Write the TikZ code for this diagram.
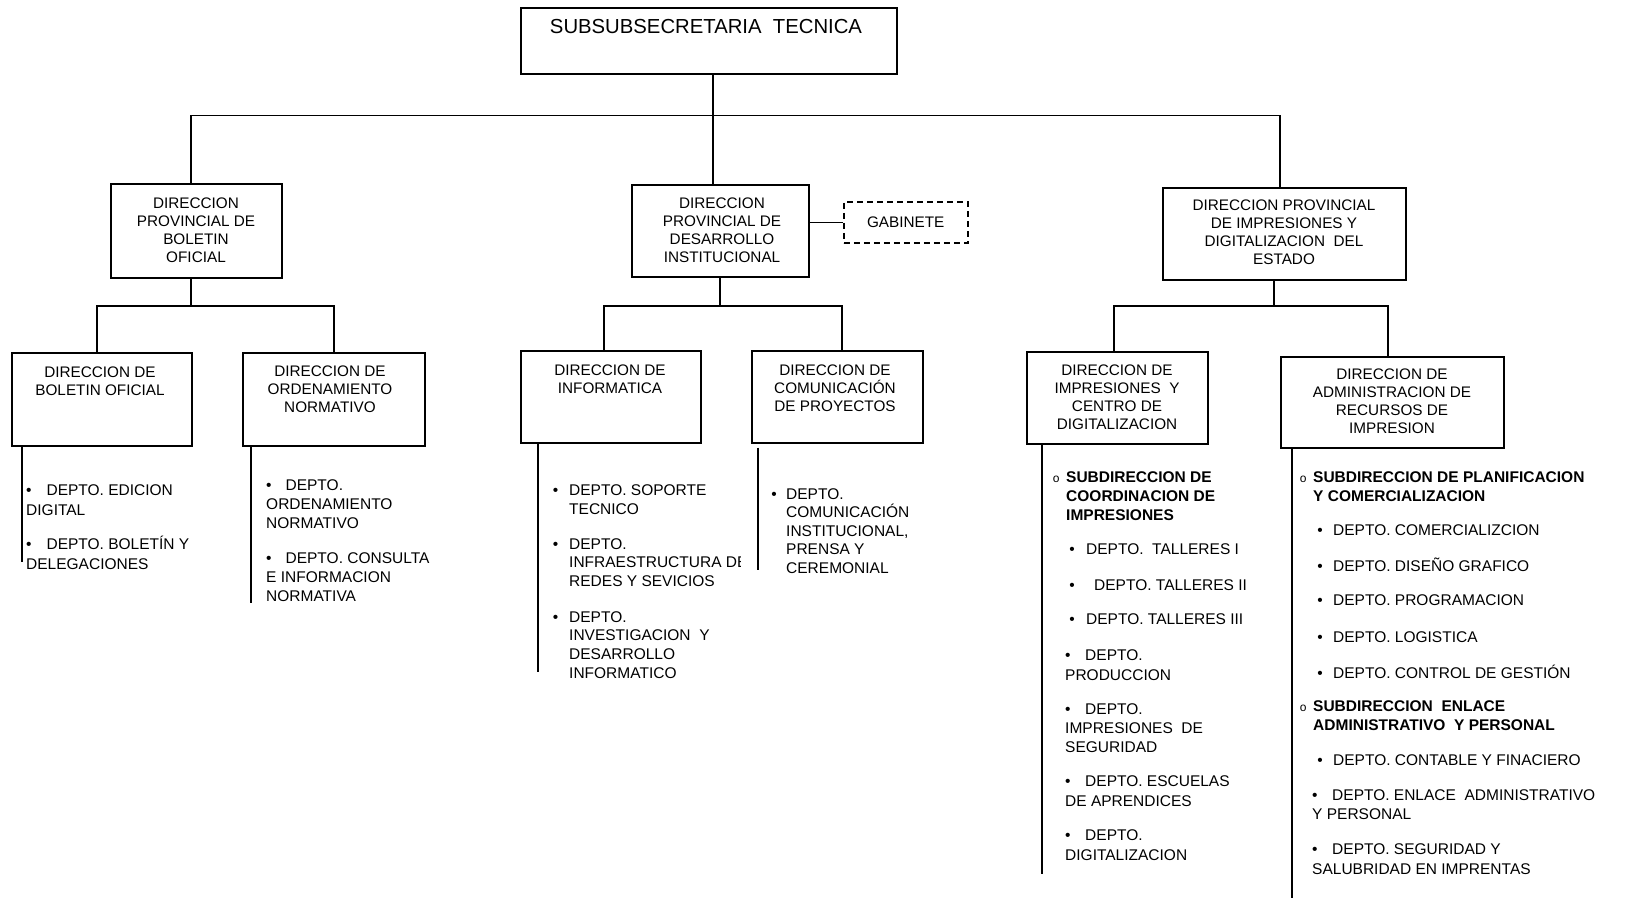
\documentclass[tikz,border=0pt]{standalone}
\usepackage{fontspec}
\setmainfont{Liberation Sans}
\newfontfamily\monof{Liberation Mono}
\usetikzlibrary{calc}
\tikzset{
  box/.style={draw, line width=1.5pt, inner sep=0pt, anchor=north west},
  lbl/.style={inner sep=0pt, align=center, font=\fontsize{15.3}{18}\selectfont},
  itm/.style={inner sep=0pt, align=left, anchor=west, font=\fontsize{15.5}{19.5}\selectfont},
  bitm/.style={itm, font=\fontsize{15.5}{19}\selectfont\bfseries},
  conn/.style={line width=1.5pt},
}
\newcommand\hb[1]{\llap{•\hspace{#1pt}}}
\newcommand\fb[1]{•\hspace{#1pt}}
\newcommand\hc[1]{\llap{{\monof\mdseries\fontsize{12}{12}\selectfont o}\hspace{#1pt}}}
\begin{document}
\begin{tikzpicture}[x=1pt,y=-1pt]
\useasboundingbox (0,0) rectangle (1631,898);
% ---------- boxes ----------
\node[box, minimum width=376pt, minimum height=66pt] (top) at (520,7) {};
\node[box, minimum width=177pt, minimum height=92pt] (cb) at (631,184) {};
\node[box, dashed, dash pattern=on 6pt off 4pt, minimum width=124pt, minimum height=41pt, font=\fontsize{15.3}{18}\selectfont] (gab) at (843,201) {GABINETE};
\node[box, minimum width=171pt, minimum height=94pt] (lb) at (110,183) {};
\node[box, minimum width=243pt, minimum height=92pt] (rb) at (1162,187) {};
\node[box, minimum width=180pt, minimum height=93pt] (l1) at (11,352) {};
\node[box, minimum width=182pt, minimum height=93pt] (l2) at (242,352) {};
\node[box, minimum width=180pt, minimum height=92pt] (m1) at (520,350) {};
\node[box, minimum width=171pt, minimum height=92pt] (m2) at (751,350) {};
\node[box, minimum width=181pt, minimum height=92pt] (r1) at (1026,351) {};
\node[box, minimum width=223pt, minimum height=91pt] (r2) at (1280,356) {};
% ---------- box labels ----------
\node[lbl, font=\fontsize{20.3}{24}\selectfont] (topt) at (706,27) {SUBSUBSECRETARIA\ \ TECNICA};
\node[lbl] (cbt) at (722,230) {DIRECCION\\PROVINCIAL DE\\DESARROLLO\\INSTITUCIONAL};
\node[lbl] (lbt) at (196,230) {DIRECCION\\PROVINCIAL DE\\BOLETIN\\OFICIAL};
\node[lbl] (rbt) at (1284,232) {DIRECCION PROVINCIAL\\DE IMPRESIONES Y\\DIGITALIZACION\ \ DEL\\ESTADO};
\node[lbl] (l1t) at (100,381) {DIRECCION DE\\BOLETIN OFICIAL};
\node[lbl] (l2t) at (330,389.5) {DIRECCION DE\\ORDENAMIENTO\\NORMATIVO};
\node[lbl] (m1t) at (610,379) {DIRECCION DE\\INFORMATICA};
\node[lbl] (m2t) at (835,388) {DIRECCION DE\\COMUNICACIÓN\\DE PROYECTOS};
\node[lbl] (r1t) at (1117,397) {DIRECCION DE\\IMPRESIONES\ \ Y\\CENTRO DE\\DIGITALIZACION};
\node[lbl] (r2t) at (1392,401.5) {DIRECCION DE\\ADMINISTRACION DE\\RECURSOS DE\\IMPRESION};
% ---------- connectors ----------
\coordinate (jt) at (713,115.5);
\coordinate (jl) at (191,115.5);
\coordinate (jr) at (1280,115.5);
\draw[conn] (top.south -| jt) -- (cb.north -| jt);
\draw[conn] (lb.north -| jl) -- (jl) -- (jr) -- (rb.north -| jr);
\draw[conn] (gab.west -| cb.east) -- (gab.west);
\coordinate (bl) at (191,306);
\coordinate (bl1) at (97,306);
\coordinate (bl2) at (334,306);
\draw[conn] (lb.south -| bl) -- (bl);
\draw[conn] (l1.north -| bl1) -- (bl1) -- (bl2) -- (l2.north -| bl2);
\coordinate (bm) at (720,306);
\coordinate (bm1) at (604,306);
\coordinate (bm2) at (842,306);
\draw[conn] (cb.south -| bm) -- (bm);
\draw[conn] (m1.north -| bm1) -- (bm1) -- (bm2) -- (m2.north -| bm2);
\coordinate (br) at (1274,306);
\coordinate (br1) at (1114,306);
\coordinate (br2) at (1388,306);
\draw[conn] (rb.south -| br) -- (br);
\draw[conn] (r1.north -| br1) -- (br1) -- (br2) -- (r2.north -| br2);
% column lines
\coordinate (e1) at (22,562);
\coordinate (e2) at (251,603);
\coordinate (e3) at (538,672);
\coordinate (e4) at (758,570);
\coordinate (e5) at (1042,874);
\coordinate (e6) at (1292,898);
\draw[conn] (l1.south -| e1) -- (e1);
\draw[conn] (l2.south -| e2) -- (e2);
\draw[conn] (m1.south -| e3) -- (e3);
\draw[conn] ([yshift=-4pt]m2.south -| e4) -- (e4);
\draw[conn] (r1.south -| e5) -- (e5);
\draw[conn] (r2.south -| e6) -- (e6);
% ---------- items ----------
\node[itm] (a1) at (26,500) {\fb{15}DEPTO. EDICION\\DIGITAL};
\node[itm] (a2) at (26,553) {\fb{15}DEPTO. BOLETÍN Y\\DELEGACIONES};
\node[itm, font=\fontsize{15.5}{19}\selectfont] (b1) at (266,504) {\fb{14}DEPTO.\\ORDENAMIENTO\\NORMATIVO};
\node[itm, font=\fontsize{15.5}{19}\selectfont] (b2) at (266,577.5) {\fb{14}DEPTO. CONSULTA\\E INFORMACION\\NORMATIVA};
\node[itm] (c1) at (569,499.5) {\hb{11}DEPTO. SOPORTE\\TECNICO};
\begin{scope}
\clip (520,520) rectangle (740,600);
\node[itm, font=\fontsize{15.5}{18.5}\selectfont] (c2) at (569,562.5) {\hb{11}DEPTO.\\INFRAESTRUCTURA DE\\REDES Y SEVICIOS};
\end{scope}
\node[itm, font=\fontsize{15.5}{18.7}\selectfont] (c3) at (569,645) {\hb{11}DEPTO.\\INVESTIGACION\ \ Y\\DESARROLLO\\INFORMATICO};
\node[itm, font=\fontsize{15.5}{18.5}\selectfont] (d1) at (786,531) {\hb{9.4}DEPTO.\\COMUNICACIÓN\\INSTITUCIONAL,\\PRENSA Y\\CEREMONIAL};
\node[bitm] (f1) at (1066,496) {\hc{6.5}SUBDIRECCION DE\\COORDINACION DE\\IMPRESIONES};
\node[itm] (f2) at (1086,549) {\hb{11.4}DEPTO.\ \ TALLERES I};
\node[itm] (f3) at (1094,585) {\hb{19.4}DEPTO. TALLERES II};
\node[itm] (f4) at (1086,619) {\hb{11.4}DEPTO. TALLERES III};
\node[itm] (f5) at (1065,665) {\fb{14.6}DEPTO.\\PRODUCCION};
\node[itm, font=\fontsize{15.5}{19}\selectfont] (f6) at (1065,728) {\fb{14.6}DEPTO.\\IMPRESIONES\ \ DE\\SEGURIDAD};
\node[itm] (f7) at (1065,791) {\fb{14.6}DEPTO. ESCUELAS\\DE APRENDICES};
\node[itm] (f8) at (1065,845) {\fb{14.6}DEPTO.\\DIGITALIZACION};
\node[bitm] (g1) at (1313,486.5) {\hc{6.5}SUBDIRECCION DE PLANIFICACION\\Y COMERCIALIZACION};
\node[itm] (g2) at (1333,530) {\hb{10.4}DEPTO. COMERCIALIZCION};
\node[itm] (g3) at (1333,565) {\hb{10.4}DEPTO. DISEÑO GRAFICO};
\node[itm] (g4) at (1333,600) {\hb{10.4}DEPTO. PROGRAMACION};
\node[itm] (g5) at (1333,637) {\hb{10.4}DEPTO. LOGISTICA};
\node[itm] (g6) at (1333,672) {\hb{10.4}DEPTO. CONTROL DE GESTIÓN};
\node[bitm] (g7) at (1313,716) {\hc{6.5}SUBDIRECCION\ \ ENLACE\\ADMINISTRATIVO\ \ Y PERSONAL};
\node[itm] (g8) at (1333,760) {\hb{10.4}DEPTO. CONTABLE Y FINACIERO};
\node[itm] (g9) at (1312,804.5) {\fb{14.6}DEPTO. ENLACE\ \ ADMINISTRATIVO\\Y PERSONAL};
\node[itm] (g10) at (1312,859) {\fb{14.6}DEPTO. SEGURIDAD Y\\SALUBRIDAD EN IMPRENTAS};
\end{tikzpicture}
\end{document}
